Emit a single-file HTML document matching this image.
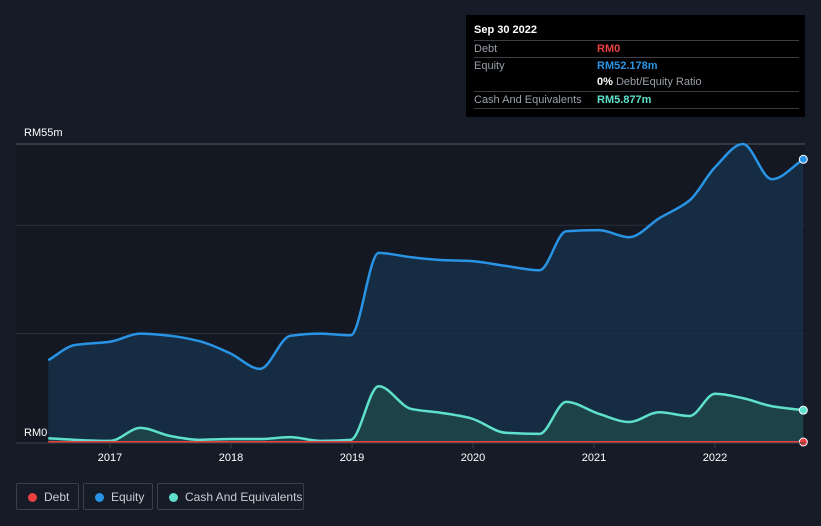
<!DOCTYPE html>
<html><head><meta charset="utf-8"><style>
body{margin:0;background:#161c27;width:821px;height:526px;overflow:hidden;font-family:"Liberation Sans",sans-serif}
.tt{position:absolute;left:466px;top:15px;width:339px;height:102px;background:#000}
.row{position:absolute;left:8px;right:6px;font-size:11px;color:#9aa0a8;border-top:1px solid #3a3e45;height:16px;line-height:17px}
.row span{position:absolute;left:123px;font-weight:bold}
.lg{position:absolute;top:483px;height:27px;border:1px solid #3a404a;border-radius:2px;color:#c8ccd2;font-size:12px;line-height:27px;box-sizing:border-box}
.lg i{position:absolute;left:11px;top:9px;width:9px;height:9px;border-radius:50%}
.lg b{font-weight:normal;position:absolute;left:27px}
</style></head><body>
<svg id="chart" width="821" height="526" style="position:absolute;left:0;top:0">
<rect x="16" y="144" width="789" height="298" fill="#131822"/>
<g id="grid"></g><g id="series"></g><g id="axis"></g>
</svg>
<div class="tt">
<div style="position:absolute;left:8px;top:9px;color:#fff;font-size:11px;font-weight:bold">Sep 30 2022</div>
<div class="row" style="top:25px">Debt<span style="color:#e84040">RM0</span></div>
<div class="row" style="top:42px">Equity<span style="color:#2994e6">RM52.178m</span></div>
<div class="row" style="top:59px;border-top:none"><span style="color:#fff">0% <em style="font-style:normal;font-weight:normal;color:#9aa0a8">Debt/Equity Ratio</em></span></div>
<div class="row" style="top:76px;border-bottom:1px solid #3a3e45">Cash And Equivalents<span style="color:#5fe0cc">RM5.877m</span></div>
</div>
<div class="lg" style="left:16px;width:63px"><i style="background:#e84040"></i><b>Debt</b></div>
<div class="lg" style="left:83px;width:70px"><i style="background:#2994e6"></i><b>Equity</b></div>
<div class="lg" style="left:157px;width:147px"><i style="background:#5fe0cc"></i><b>Cash And Equivalents</b></div>
<script>
const dates=[2016.49,2016.71,2017.0,2017.25,2017.5,2017.74,2017.99,2018.24,2018.49,2018.74,2018.99,2019.22,2019.49,2019.73,2019.98,2020.27,2020.55,2020.77,2021.04,2021.29,2021.54,2021.79,2022.0,2022.23,2022.47,2022.73];
const equity=[15.1,17.9,18.5,20,19.6,18.6,16.4,13.5,19.6,20,19.7,34.9,34.1,33.6,33.4,32.5,31.7,38.9,39.1,37.8,41.3,44.6,50.7,55,48.5,52.178];
const cash=[0.7,0.4,0.2,2.6,1.1,0.4,0.55,0.55,0.9,0.2,0.4,10.3,6.1,5.4,4.4,1.7,1.5,7.4,5.2,3.7,5.5,4.8,8.9,8.1,6.6,5.877];
const debt=dates.map(()=>0);
const yTicks=[0,55];const yTickLabels=["RM0","RM55m"];const gridVals=[20,40,55];
const xTicks=[2017,2018,2019,2020,2021,2022];
const X=t=>110+(t-2017)*121, Y=v=>442-v*5.418;
const NS="http://www.w3.org/2000/svg";
function mk(tag,at,par){const e=document.createElementNS(NS,tag);for(const k in at)e.setAttribute(k,at[k]);document.getElementById(par).appendChild(e);return e;}
function path(vals){const p=dates.map((d,i)=>[X(d),Y(vals[i])]);const n=p.length;
const dl=[],m=[];for(let i=0;i<n-1;i++)dl.push((p[i+1][1]-p[i][1])/(p[i+1][0]-p[i][0]));
for(let i=0;i<n;i++){if(i==0)m.push(dl[0]);else if(i==n-1)m.push(dl[n-2]);else m.push(dl[i-1]*dl[i]<=0?0:2/(1/dl[i-1]+1/dl[i]));}
let s=`M${p[0][0]},${p[0][1]}`;
for(let i=0;i<n-1;i++){const h=(p[i+1][0]-p[i][0])/3;
s+=`C${p[i][0]+h},${p[i][1]+m[i]*h} ${p[i+1][0]-h},${p[i+1][1]-m[i+1]*h} ${p[i+1][0]},${p[i+1][1]}`;}return s;}
gridVals.forEach(v=>{const g=mk('line',{x1:16,x2:805,y1:Y(v),y2:Y(v),stroke:v==55?'#555b66':'#2a303b','stroke-width':1},'grid');
});
const base=`L${X(dates[dates.length-1])},${Y(0)}L${X(dates[0])},${Y(0)}Z`;
let a=mk('path',{d:path(equity)+base,fill:'#173048','fill-opacity':0.85},'series');
a=mk('path',{d:path(cash)+base,fill:'#1f4a4a','fill-opacity':0.8},'series');
let l=mk('path',{d:path(equity),fill:'none',stroke:'#2994e6','stroke-width':2.5},'series');
l=mk('path',{d:path(cash),fill:'none',stroke:'#5fe0cc','stroke-width':2.5},'series');
l=mk('path',{d:path(debt),fill:'none',stroke:'#e84040','stroke-width':2},'series');
const n=dates.length-1;
[[equity,'#2994e6','equity-end-dot'],[cash,'#5fe0cc','cash-end-dot'],[debt,'#e84040','debt-end-dot']].forEach(([v,c,nm])=>{
const d=mk('circle',{cx:X(dates[n]),cy:Y(v[n]),r:4,fill:c,stroke:'#fff','stroke-width':1},'series');});
mk('line',{x1:16,x2:805,y1:443,y2:443,stroke:'#3a404a'},'axis');
xTicks.forEach(t=>{mk('line',{x1:X(t),x2:X(t),y1:443,y2:448,stroke:'#3a404a'},'axis');
const e=mk('text',{x:X(t),y:461,'text-anchor':'middle',fill:'#fff','font-size':11,'font-family':'Liberation Sans'},'axis');e.textContent=t;
});
yTicks.forEach((v,i)=>{const e=mk('text',{x:24,y:Y(v)-8,fill:'#fff','font-size':11,'font-family':'Liberation Sans'},'axis');
if(v==0)e.setAttribute('y',436);e.textContent=yTickLabels[i];
});
</script>
</body></html>
